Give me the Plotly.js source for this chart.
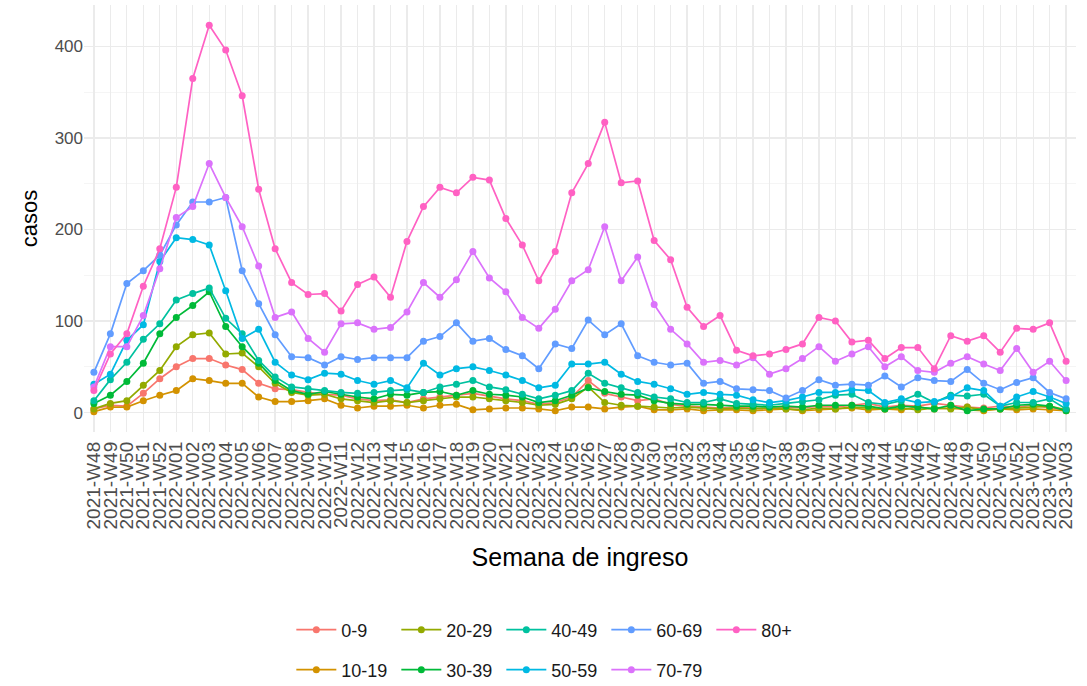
<!DOCTYPE html>
<html>
<head>
<meta charset="utf-8">
<script src="https://cdn.plot.ly/plotly-3.0.1.min.js"></script>
<style>html,body{margin:0;padding:0;background:#fff}#chart{width:1087px;height:686px}</style>
</head>
<body>
<div id="chart"></div>
<script>
const weeks = ["2021-W48","2021-W49","2021-W50","2021-W51","2021-W52",
"2022-W01","2022-W02","2022-W03","2022-W04","2022-W05","2022-W06","2022-W07","2022-W08","2022-W09","2022-W10",
"2022-W11","2022-W12","2022-W13","2022-W14","2022-W15","2022-W16","2022-W17","2022-W18","2022-W19","2022-W20",
"2022-W21","2022-W22","2022-W23","2022-W24","2022-W25","2022-W26","2022-W27","2022-W28","2022-W29","2022-W30",
"2022-W31","2022-W32","2022-W33","2022-W34","2022-W35","2022-W36","2022-W37","2022-W38","2022-W39","2022-W40",
"2022-W41","2022-W42","2022-W43","2022-W44","2022-W45","2022-W46","2022-W47","2022-W48","2022-W49","2022-W50",
"2022-W51","2022-W52","2023-W01","2023-W02","2023-W03"];

const grupos = ["0-9","10-19","20-29","30-39","40-49","50-59","60-69","70-79","80+"];
const colores = ["#F8766D","#D39200","#93AA00","#00BA38","#00C19F","#00B9E3","#619CFF","#DB72FB","#FF61C3"];

const casos_0_9 = [4,8,7,21,37,50,59,59,52,47, 32,26,25,22,20,19,15,13,14,11, 15,17,19,21,18,15,13,9,11,17, 35,21,17,13,15,9,7,6,5,6, 5,4,6,5,7,6,8,10,6,8, 7,10,8,6,5,7,6,8,5,3];
const casos_10_19 = [1,6,6,13,19,24,37,35,32,32, 17,12,12,13,15,8,5,7,7,8, 5,8,9,3,4,5,5,4,2,6, 6,4,6,7,3,3,4,2,3,3, 2,3,4,2,3,4,5,3,4,3, 6,4,5,3,2,4,3,4,3,2];
const casos_20_29 = [4,10,13,30,46,72,85,87,64,65, 50,32,22,19,20,15,13,11,13,11, 13,15,17,17,15,13,11,8,9,15, 28,11,8,7,6,5,6,5,4,5, 4,5,4,3,5,4,6,5,4,5, 3,5,4,6,3,4,5,6,7,3];
const casos_30_39 = [10,19,34,54,86,104,117,132,94,72, 54,35,24,20,23,20,17,15,20,19, 22,23,19,24,20,19,17,11,13,19, 27,23,20,19,13,10,9,9,8,7, 7,6,7,6,8,8,8,7,4,7, 6,4,8,2,4,4,8,9,7,2];
const casos_40_49 = [13,36,55,80,97,123,130,136,103,86, 57,39,28,26,24,22,21,22,24,25, 22,28,31,35,28,25,20,15,19,24, 43,32,27,22,17,15,11,11,15,10, 9,8,10,12,14,19,20,11,9,13, 20,11,19,18,20,7,11,11,15,4];
const casos_50_59 = [31,42,79,96,165,191,189,183,133,81, 91,55,41,36,43,42,35,31,35,27, 54,41,48,50,46,41,35,27,30,53, 53,55,42,34,31,26,20,22,20,19, 14,11,13,17,22,22,25,24,11,15, 11,12,17,27,24,7,17,23,17,10];
const casos_60_69 = [44,86,141,155,172,205,230,230,235,155, 119,85,61,60,52,61,58,60,60,60, 78,83,98,78,81,69,62,48,75,70, 101,85,97,62,55,52,54,32,34,26, 25,24,16,24,36,30,31,30,40,28, 38,35,34,47,32,25,33,38,22,15];
const casos_70_79 = [28,72,72,106,157,213,225,272,235,203, 160,104,110,81,66,97,98,91,93,110, 142,126,145,176,147,132,104,92,113,144, 156,203,144,170,118,91,75,55,57,52, 60,42,48,59,72,56,64,72,50,61, 46,44,54,61,53,46,70,44,56,35];
const casos_80 = [24,64,86,138,179,246,365,423,396,346, 244,179,142,129,130,111,140,148,126,187, 225,246,240,257,254,212,183,144,176,240, 272,317,251,253,188,167,115,94,106,68, 62,64,69,75,104,100,77,79,59,71, 71,48,84,78,84,66,92,91,98,56];

const series = [casos_0_9,casos_10_19,casos_20_29,casos_30_39,casos_40_49,casos_50_59,casos_60_69,casos_70_79,casos_80];
// legend rows: row 1 = 0-9,20-29,40-49,60-69,80+ ; row 2 = 10-19,30-39,50-59,70-79
const legendOf = ["legend","legend2","legend","legend2","legend","legend2","legend","legend2","legend"];

const FONT = "Liberation Sans, Arial, sans-serif";

const traces = series.map((vals, k) => ({
  type: "scatter",
  mode: "lines+markers",
  x: weeks,
  y: vals,
  name: grupos[k],
  legend: legendOf[k],
  line: {color: colores[k], width: 1.7},
  marker: {color: colores[k], size: 7},
  hoverinfo: "x+y+name"
}));

const legendCommon = {
  orientation: "h",
  xref: "paper", yref: "container",
  xanchor: "left", yanchor: "middle",
  font: {family: FONT, size: 18, color: "#1a1a1a"},
  itemwidth: 40,
  entrywidth: 50,
  entrywidthmode: "pixels",
  bgcolor: "rgba(0,0,0,0)",
  tracegroupgap: 0
};

const layout = {
  width: 1087, height: 686,
  margin: {l: 84, r: 11, t: 5, b: 254},
  paper_bgcolor: "#ffffff",
  plot_bgcolor: "#ffffff",
  font: {family: FONT, color: "#4D4D4D"},
  showlegend: true,
  legend: Object.assign({}, legendCommon, {x: 0.209, y: 1 - 630/686}),
  legend2: Object.assign({}, legendCommon, {x: 0.209, y: 1 - 670/686}),
  xaxis: {
    type: "category",
    range: [-0.6, 59.6],
    tickmode: "linear", tick0: 0, dtick: 1,
    tickangle: -90,
    ticklabelstandoff: 5,
    tickfont: {family: FONT, size: 19, color: "#4D4D4D"},
    showgrid: true, gridcolor: "#EBEBEB", gridwidth: 1.3,
    zeroline: false, showline: false, ticks: "",
    automargin: false,
    title: {text: "Semana de ingreso", font: {family: FONT, size: 25, color: "#000000"}, standoff: 20}
  },
  yaxis: {
    range: [-21.2, 445.2],
    tickvals: [0, 100, 200, 300, 400],
    tickfont: {family: FONT, size: 17, color: "#4D4D4D"},
    showgrid: true, gridcolor: "#EBEBEB", gridwidth: 1.3,
    minor: {dtick: 50, tick0: 0, showgrid: true, gridcolor: "#F4F4F4", gridwidth: 0.9, ticks: ""},
    zeroline: false, showline: false, ticks: "",
    automargin: false,
    title: {text: "casos", font: {family: FONT, size: 22, color: "#000000"}, standoff: 10}
  }
};

Plotly.newPlot("chart", traces, layout, {displayModeBar: false, staticPlot: true});
</script>
</body>
</html>
